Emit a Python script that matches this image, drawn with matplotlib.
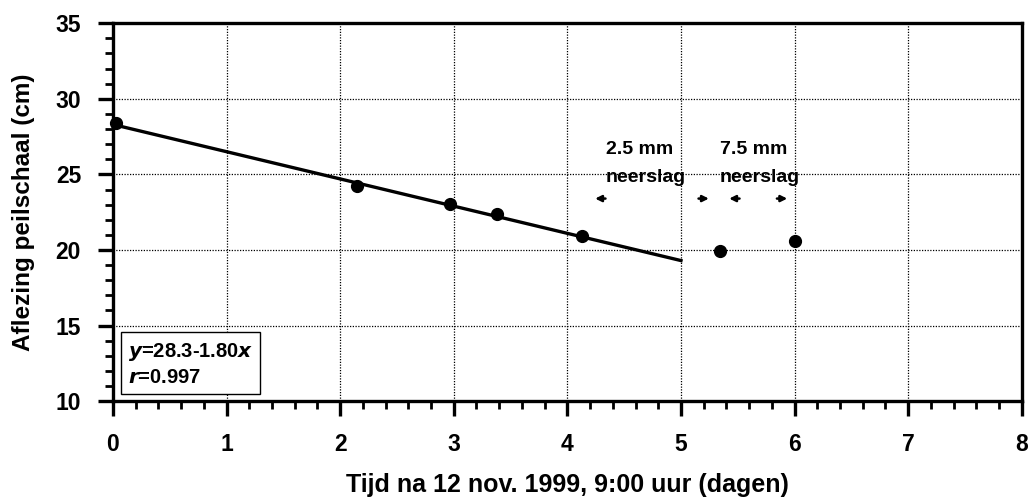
import matplotlib
matplotlib.use("Agg")
import matplotlib.pyplot as plt
from matplotlib.ticker import MultipleLocator
import numpy as np

days = [0.03, 2.15, 2.97, 3.38, 4.13, 5.34, 6.0]
level = [28.4, 24.2, 23.05, 22.35, 20.95, 19.9, 20.6]
fit_intercept = 28.3
fit_slope = -1.80
fit_range = [0.0, 5.0]

plt.rcParams['font.family'] = ['Liberation Sans', 'DejaVu Sans']
plt.rcParams['font.weight'] = 'bold'

fig = plt.figure(figsize=(10.3, 5.04), dpi=100)
ax = fig.add_axes([0.1097, 0.204, 0.8823, 0.750])

ax.set_xlim(0, 8)
ax.set_ylim(10, 35)

xf = np.array(fit_range)
ax.plot(xf, fit_intercept + fit_slope * xf, color='black', lw=2.4, zorder=3)
ax.plot(days, level, 'o', color='black', ms=8.5, zorder=4, clip_on=False)

ax.xaxis.set_major_locator(MultipleLocator(1))
ax.xaxis.set_minor_locator(MultipleLocator(0.2))
ax.yaxis.set_major_locator(MultipleLocator(5))
ax.yaxis.set_minor_locator(MultipleLocator(1))
ax.grid(True, which='major', color='black', ls=(0, (1, 1.2)), lw=0.9)
ax.set_axisbelow(True)
ax.tick_params(which='major', direction='out', length=11, width=2.4, labelsize=16.5, pad=12)
ax.tick_params(which='minor', direction='out', length=6, width=2.0)
for lab in ax.get_xticklabels() + ax.get_yticklabels():
    lab.set_fontweight('bold')
for s in ['left', 'bottom', 'top', 'right']:
    ax.spines[s].set_linewidth(2.4)

ax.set_xlabel('Tijd na 12 nov. 1999, 9:00 uur (dagen)', fontsize=18, fontweight='bold', labelpad=12)
ax.set_ylabel('Aflezing peilschaal (cm)', fontsize=17.5, fontweight='bold', labelpad=15)

ax.text(4.34, 26.67, '2.5 mm', ha='left', va='center', fontsize=14, fontweight='bold')
ax.text(4.34, 24.82, 'neerslag', ha='left', va='center', fontsize=14, fontweight='bold')
ax.text(5.34, 26.67, '7.5 mm', ha='left', va='center', fontsize=14, fontweight='bold')
ax.text(5.34, 24.82, 'neerslag', ha='left', va='center', fontsize=14, fontweight='bold')
ann_kw = dict(arrowprops=dict(arrowstyle='-|>', color='black', lw=1.8, mutation_scale=9))
ax.annotate('', xy=(4.22, 23.4), xytext=(4.36, 23.4), **ann_kw)
ax.annotate('', xy=(5.27, 23.4), xytext=(5.13, 23.4), **ann_kw)
ax.annotate('', xy=(5.40, 23.4), xytext=(5.54, 23.4), **ann_kw)
ax.annotate('', xy=(5.96, 23.4), xytext=(5.82, 23.4), **ann_kw)

ax.text(0.13, 12.45, r'$\it{y}$=28.3-1.80$\it{x}$' + '\n' + r'$\it{r}$=0.997',
        ha='left', va='center', fontsize=14.5, fontweight='bold', linespacing=1.3,
        bbox=dict(boxstyle='square,pad=0.35', fc='white', ec='black', lw=1.0), zorder=5)

fig.savefig('out.png', dpi=100)
